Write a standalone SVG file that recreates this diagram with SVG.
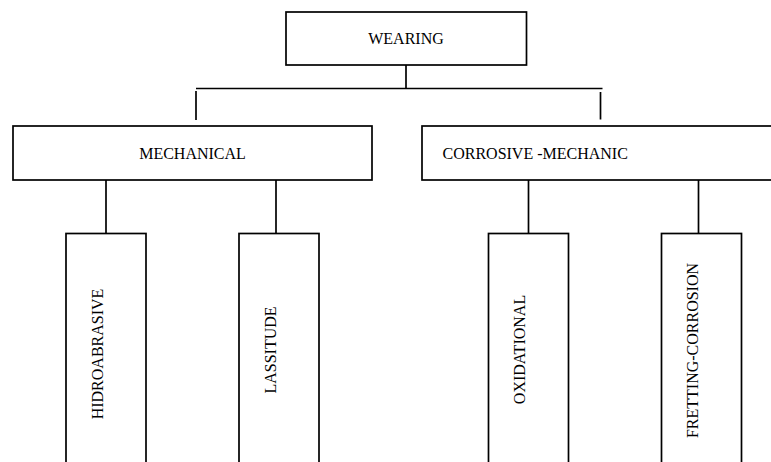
<svg xmlns="http://www.w3.org/2000/svg" width="771" height="462" viewBox="0 0 771 462">
  <style>
    .box { fill: #ffffff; stroke: #000000; stroke-width: 1.7; }
    .link { fill: none; stroke: #000000; stroke-width: 1.7; }
    .lbl { font-family: "Liberation Serif", "Times New Roman", serif; font-size: 16px; fill: #000000; }
  </style>
  <rect width="771" height="462" fill="#ffffff"/>

  <g id="connectors">
    <!-- root to branch bar -->
    <line class="link" x1="406" y1="65" x2="406" y2="88.5"/>
    <line class="link" x1="196" y1="88.5" x2="602.5" y2="88.5"/>
    <!-- drops above second-level boxes (not touching the bar) -->
    <line class="link" x1="196" y1="91" x2="196" y2="120"/>
    <line class="link" x1="600.5" y1="92" x2="600.5" y2="119.5"/>
    <!-- mechanical children -->
    <line class="link" x1="106" y1="180" x2="106" y2="233.5"/>
    <line class="link" x1="276" y1="180" x2="276" y2="233.5"/>
    <!-- corrosive-mechanic children -->
    <line class="link" x1="528.5" y1="180" x2="528.5" y2="233.5"/>
    <line class="link" x1="698.5" y1="180" x2="698.5" y2="233.5"/>
  </g>

  <g id="wearing">
    <rect class="box" x="286" y="12" width="240.5" height="53"/>
    <text class="lbl" x="406" y="44" text-anchor="middle">WEARING</text>
  </g>

  <g id="mechanical">
    <rect class="box" x="13" y="126" width="359" height="54"/>
    <text class="lbl" x="192.5" y="158.5" text-anchor="middle">MECHANICAL</text>
  </g>

  <g id="corrosive-mechanic">
    <rect class="box" x="422" y="126" width="360" height="54"/>
    <text class="lbl" x="442.5" y="158.5">CORROSIVE -MECHANIC</text>
  </g>

  <g id="hidroabrasive">
    <rect class="box" x="66" y="233.5" width="80" height="240"/>
    <text class="lbl" transform="translate(102.5,354) rotate(-90)" text-anchor="middle">HIDROABRASIVE</text>
  </g>

  <g id="lassitude">
    <rect class="box" x="239" y="233.5" width="80" height="240"/>
    <text class="lbl" transform="translate(275.5,350) rotate(-90)" text-anchor="middle">LASSITUDE</text>
  </g>

  <g id="oxidational">
    <rect class="box" x="488.5" y="233.5" width="80" height="240"/>
    <text class="lbl" transform="translate(525,349.5) rotate(-90)" text-anchor="middle">OXIDATIONAL</text>
  </g>

  <g id="fretting-corrosion">
    <rect class="box" x="661.5" y="233.5" width="80" height="240"/>
    <text class="lbl" transform="translate(698,350.5) rotate(-90)" text-anchor="middle">FRETTING-CORROSION</text>
  </g>
</svg>
